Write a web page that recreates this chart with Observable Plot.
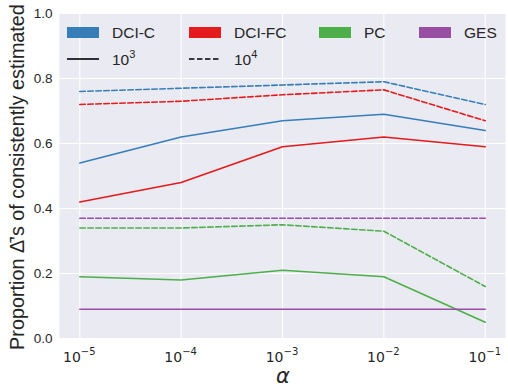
<!DOCTYPE html>
<html>
<head>
<meta charset="utf-8">
<script src="https://cdn.jsdelivr.net/npm/d3@7"></script>
<script src="https://cdn.jsdelivr.net/npm/@observablehq/plot@0.6"></script>
<style>
  html, body { margin: 0; padding: 0; background: white; }
  #chart { position: relative; width: 508px; height: 387px; }
</style>
</head>
<body>
<div id="chart"></div>
<script>
const alphas = [1e-5, 1e-4, 1e-3, 1e-2, 1e-1];
const alphaExponents = ["\u22125", "\u22124", "\u22123", "\u22122", "\u22121"];
const methods = ["DCI-C", "DCI-FC", "PC", "GES"];
const colors = ["#377eb8", "#e41a1c", "#4daf4a", "#984ea3"];
const sampleSizes = ["10^3", "10^4"];
const sampleExponents = ["3", "4"];
const yTicks = [0, 0.2, 0.4, 0.6, 0.8, 1.0];

// n = 10^3 (solid)
const dciC_n3  = [0.54, 0.62, 0.67, 0.69, 0.64];
const dciFC_n3 = [0.42, 0.48, 0.59, 0.62, 0.59];
const pc_n3    = [0.19, 0.18, 0.21, 0.19, 0.05];
const ges_n3   = [0.09, 0.09, 0.09, 0.09, 0.09];
// n = 10^4 (dashed)
const dciC_n4  = [0.76, 0.77, 0.78, 0.79, 0.72];
const dciFC_n4 = [0.72, 0.73, 0.75, 0.765, 0.67];
const pc_n4    = [0.34, 0.34, 0.35, 0.33, 0.16];
const ges_n4   = [0.37, 0.37, 0.37, 0.37, 0.37];

const series = [
  [methods[0], sampleSizes[0], dciC_n3], [methods[1], sampleSizes[0], dciFC_n3],
  [methods[2], sampleSizes[0], pc_n3],   [methods[3], sampleSizes[0], ges_n3],
  [methods[0], sampleSizes[1], dciC_n4], [methods[1], sampleSizes[1], dciFC_n4],
  [methods[2], sampleSizes[1], pc_n4],   [methods[3], sampleSizes[1], ges_n4]
];
const data = series.flatMap(([m, n, vals]) => vals.map((v, i) => ({alpha: alphas[i], value: v, method: m, n, key: m + n})));

const textColor = "#262626";
const dash = "5.5,2.5";

const plot = Plot.plot({
  width: 508,
  height: 387,
  marginLeft: 59,
  marginRight: 3,
  marginTop: 13,
  marginBottom: 49,
  style: {background: "white", fontFamily: "'Liberation Sans', Arial, sans-serif", color: textColor},
  x: {type: "log", domain: [10 ** -5.2, 10 ** -0.8], axis: null},
  y: {domain: [0, 1]},
  color: {domain: methods, range: colors},
  marks: [
    Plot.frame({fill: "#eaeaf2", stroke: "none"}),
    Plot.gridX(alphas, {stroke: "white", strokeOpacity: 1, strokeWidth: 1.1}),
    Plot.gridY(yTicks, {stroke: "white", strokeOpacity: 1, strokeWidth: 1.1}),
    Plot.line(data.filter(d => d.n === sampleSizes[0]), {x: "alpha", y: "value", z: "key", stroke: "method", strokeWidth: 1.6}),
    Plot.line(data.filter(d => d.n === sampleSizes[1]), {x: "alpha", y: "value", z: "key", stroke: "method", strokeWidth: 1.6, strokeDasharray: dash}),
    Plot.axisY(yTicks, {tickSize: 0, tickPadding: 7, fontSize: 13.5, fill: textColor,
      tickFormat: d3.format(".1f"), label: null})
  ]
});

document.getElementById("chart").appendChild(plot);

const svg = d3.select(plot);
const xScale = plot.scale("x");

// X tick labels with superscript exponents, positioned by the plot's x scale
const xt = svg.append("g").attr("font-family", "'DejaVu Sans', sans-serif").attr("fill", textColor).attr("text-anchor", "start");
alphas.forEach((a, i) => {
  const cx = xScale.apply(a);
  const t = xt.append("text").attr("y", 362).attr("font-size", 14);
  t.append("tspan").text("10");
  t.append("tspan").attr("font-size", 10).attr("dy", -7).text(alphaExponents[i]);
  const w = t.node().getComputedTextLength();
  t.attr("x", cx - w / 2);
});

// Axis labels
svg.append("text")
  .attr("transform", "translate(19,177) rotate(-90)")
  .attr("text-anchor", "middle")
  .attr("dominant-baseline", "middle")
  .attr("font-size", 19.8)
  .attr("fill", textColor)
  .text("Proportion \u0394\u0304's of consistently estimated");
svg.append("text")
  .attr("x", 283).attr("y", 383)
  .attr("text-anchor", "middle")
  .attr("font-size", 21)
  .attr("font-style", "italic")
  .attr("font-family", "'DejaVu Sans', sans-serif")
  .attr("fill", textColor)
  .text("\u03B1");

// Legend
const lg = svg.append("g").attr("font-size", 15.5).attr("fill", textColor).attr("text-anchor", "start");
const colX = [67, 189, 319, 419];
methods.forEach((m, i) => {
  lg.append("rect").attr("x", colX[i]).attr("y", 27).attr("width", 32).attr("height", 11)
    .attr("fill", colors[i]);
  lg.append("text").attr("x", colX[i] + 45).attr("y", 38).text(m);
});
sampleSizes.forEach((s, i) => {
  lg.append("line").attr("x1", colX[i]).attr("x2", colX[i] + 32).attr("y1", 59).attr("y2", 59)
    .attr("stroke", "black").attr("stroke-width", 1.6)
    .attr("stroke-dasharray", i === 1 ? dash : null);
  const t = lg.append("text").attr("x", colX[i] + 45).attr("y", 65);
  t.append("tspan").text("10");
  t.append("tspan").attr("font-size", 11).attr("dy", -7).text(sampleExponents[i]);
});
</script>
</body>
</html>
